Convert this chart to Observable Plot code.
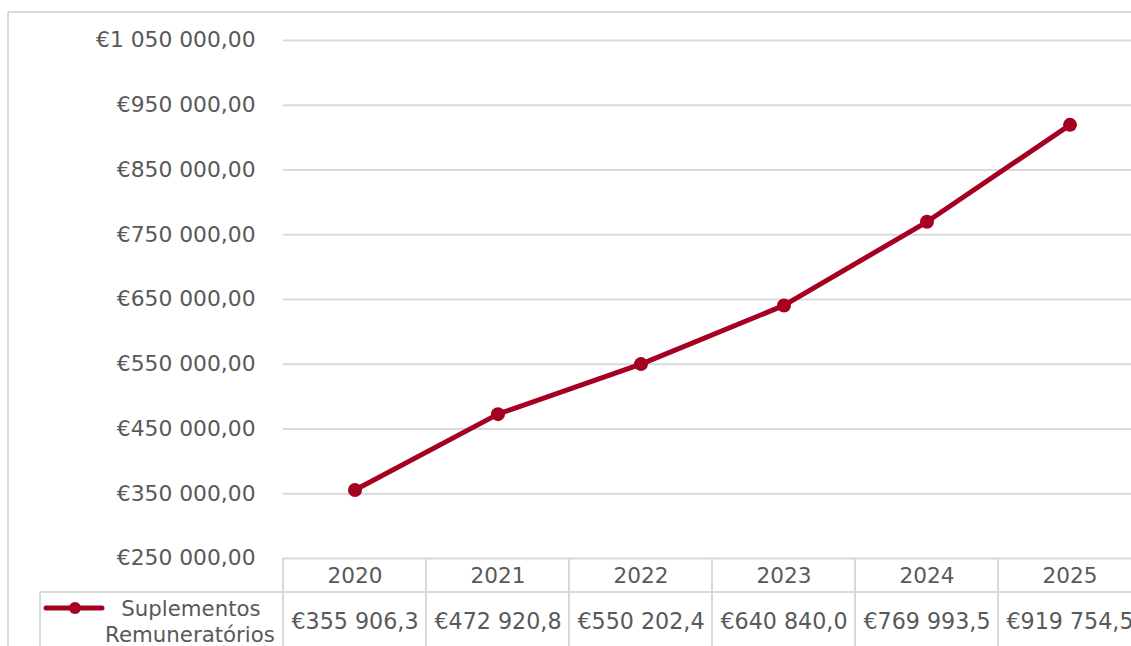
<!DOCTYPE html>
<html>
<head>
<meta charset="utf-8">
<script src="https://cdn.jsdelivr.net/npm/d3@7"></script>
<script src="https://cdn.jsdelivr.net/npm/@observablehq/plot@0.6"></script>
<style>
  html, body { margin: 0; padding: 0; background: #fff; }
  #chart { width: 1131px; height: 646px; overflow: hidden; }
  svg { font-family: "DejaVu Sans", Verdana, sans-serif; }
</style>
</head>
<body>
<div id="chart"></div>
<script>
const years = ["2020", "2021", "2022", "2023", "2024", "2025"];
const values = [355906.3, 472920.8, 550202.4, 640840.0, 769993.5, 919754.5];
const tableLabels = ["€355 906,3", "€472 920,8", "€550 202,4", "€640 840,0", "€769 993,5", "€919 754,5"];
const yTicks = [250000, 350000, 450000, 550000, 650000, 750000, 850000, 950000, 1050000];
const seriesName = ["Suplementos", "Remuneratórios"];

const data = years.map((y, i) => ({year: y, value: values[i], label: tableLabels[i]}));

const red = "#A50021";
const grid = "#d9d9d9";
const textColor = "#595959";

const fmt = v => "€" + d3.format(",.2f")(v).replace(/,/g, " ").replace(".", ",");

const plot = Plot.plot({
  width: 1131,
  height: 646,
  marginLeft: 283,
  marginRight: 0,
  marginTop: 40,
  marginBottom: 88,
  style: {fontFamily: "DejaVu Sans, Verdana, sans-serif", fontSize: "20px", color: textColor, background: "#fff", overflow: "hidden"},
  x: {type: "band", domain: years, range: [283, 1141], padding: 0, axis: null},
  y: {domain: [250000, 1050000], range: [558, 40], axis: null},
  marks: [
    Plot.ruleY(yTicks, {stroke: grid, strokeWidth: 2}),
    Plot.text(yTicks, {y: d => d, text: fmt, frameAnchor: "left", textAnchor: "end", dx: -28, fill: textColor, fontSize: 21.8}),
    Plot.line(data, {x: "year", y: "value", stroke: red, strokeWidth: 5}),
    Plot.dot(data, {x: "year", y: "value", r: 7, fill: red, stroke: "none"}),
    Plot.text(data, {x: "year", y: () => 250000, text: "year", dy: 18, fill: textColor, fontSize: 21.6}),
    Plot.text(data, {x: "year", y: () => 250000, text: "label", dy: 63, fill: textColor, fontSize: 22.2})
  ]
});

document.getElementById("chart").appendChild(plot);

// Data table lines and legend, positioned from the plot's own scales
const sx = plot.scale("x");
const sy = plot.scale("y");
const bw = sx.bandwidth;
const yTop = sy.apply(250000);
const rowLine = yTop + 34;
const svg = d3.select(plot);
const g = svg.append("g").attr("stroke", grid).attr("stroke-width", 2);
years.forEach(y => {
  const x0 = sx.apply(y);
  g.append("line").attr("x1", x0).attr("x2", x0).attr("y1", yTop).attr("y2", 646);
});
const xEnd = sx.apply(years[years.length - 1]) + bw;
g.append("line").attr("x1", xEnd).attr("x2", xEnd).attr("y1", yTop).attr("y2", 646);
g.append("line").attr("x1", 40).attr("x2", 1131).attr("y1", rowLine).attr("y2", rowLine);
g.append("line").attr("x1", 40).attr("x2", 40).attr("y1", rowLine).attr("y2", 646);
g.append("line").attr("x1", 8).attr("x2", 1131).attr("y1", 12).attr("y2", 12);
g.append("line").attr("x1", 8).attr("x2", 8).attr("y1", 12).attr("y2", 646);

// legend key
const lg = svg.append("g");
lg.append("line").attr("x1", 46).attr("x2", 102).attr("y1", 608).attr("y2", 608)
  .attr("stroke", red).attr("stroke-width", 5).attr("stroke-linecap", "round");
lg.append("circle").attr("cx", 75).attr("cy", 608).attr("r", 6).attr("fill", red);
lg.append("text").attr("x", 191).attr("y", 609).attr("text-anchor", "middle").attr("dy", "0.35em")
  .attr("fill", textColor).attr("font-size", 21.3).text(seriesName[0]);
lg.append("text").attr("x", 190).attr("y", 635).attr("text-anchor", "middle").attr("dy", "0.35em")
  .attr("fill", textColor).attr("font-size", 21.3).text(seriesName[1]);
</script>
</body>
</html>
